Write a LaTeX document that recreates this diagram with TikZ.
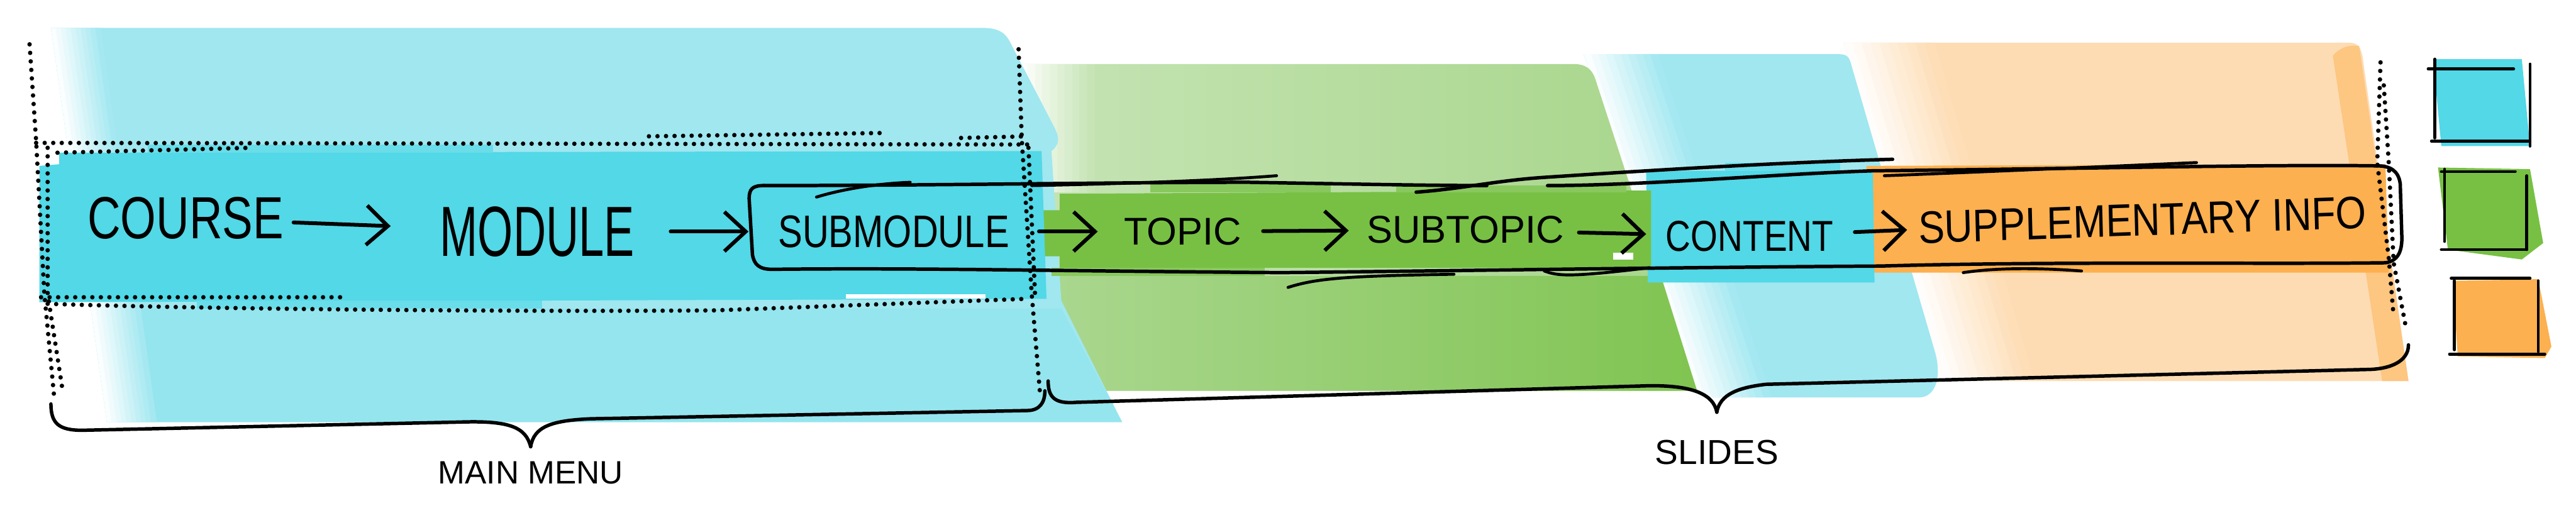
\documentclass[tikz,border=0pt]{standalone}
\usepackage{fontspec}
\setmainfont{Liberation Sans}
\newfontfamily\handfont{Liberation Sans}
\usetikzlibrary{arrows.meta,positioning}

\definecolor{menucyan}{HTML}{52D8E6}
\definecolor{menucyanlt}{HTML}{A0E7F0}
\definecolor{slidegreen}{HTML}{77C044}
\definecolor{slidegreenlt}{HTML}{B3DB9C}
\definecolor{infoorange}{HTML}{FDB04F}
\definecolor{infoorangelt}{HTML}{FDDCB3}

\begin{document}
\begin{tikzpicture}[x=1mm,y=-1mm,
  word/.style={inner sep=0pt,font=\handfont\fontsize{#1}{#1}\selectfont},
  ink/.style={line width=2.1mm,line cap=round,line join=round},
  pen/.style={line width=1.8mm,line cap=round},
  arr/.style={line width=2.3mm,line cap=round,line join=round,
              -{Straight Barb[length=13mm,width=24mm]}},
  dotrule/.style={line width=2.7mm,line cap=round,dash pattern=on 0pt off 5.2mm},
]
  \useasboundingbox (0,0) rectangle (1568,312.2);
  \fill[white] (0,0) rectangle (1568,312.2);

  % Marker washes (back to front)
  \fill[infoorangelt] (1122,26) -- (1430,26) .. controls (1436,26) and (1437,30) .. (1438,34)
    -- (1466,232) -- (1183,232) -- cycle;
  \fill[infoorangelt!50!infoorange] (1420,34) .. controls (1424,29) and (1430,27) .. (1436,28)
    -- (1466,232) -- (1450,232) -- cycle;
  \foreach \i in {0,...,9}{
    \pgfmathtruncatemacro{\mix}{\i*10+5}
    \fill[infoorangelt!\mix!white] ({1122+5.5*\i},26) -- ({1128+5.5*\i},26)
      -- ({1189+5.5*\i},232) -- ({1183+5.5*\i},232) -- cycle;
  }

  \fill[menucyanlt] (964,33) -- (1120,33) .. controls (1125,33) and (1126,36) .. (1127,40)
    -- (1178,215) .. controls (1182,230) and (1178,242) .. (1168,242) -- (1033,242) -- cycle;
  \foreach \i in {0,...,9}{
    \pgfmathtruncatemacro{\mix}{\i*10+5}
    \fill[menucyanlt!\mix!white] ({964+4.5*\i},33) -- ({969+4.5*\i},33)
      -- ({1038+4.5*\i},242) -- ({1033+4.5*\i},242) -- cycle;
  }

  \shade[left color=slidegreenlt!75!white,right color=slidegreenlt!80!slidegreen]
    (621,39) -- (958,39) .. controls (965,39) and (969,42) .. (971,48)
    -- (1033,238) -- (650,238) -- (621,175) -- cycle;
  \shade[left color=slidegreenlt!85!slidegreen,right color=slidegreen!85!slidegreenlt]
    (640,168) -- (1011,168) -- (1033,238) -- (650,238) -- cycle;
  \foreach \i in {0,...,9}{
    \pgfmathtruncatemacro{\mix}{\i*8+3}
    \fill[slidegreenlt!\mix!white] ({621+4.5*\i},39) rectangle ({626+4.5*\i},117);
  }

  \fill[menucyanlt] (31,17) -- (598,17) .. controls (608,17) and (612,20) .. (615,26)
    -- (642,78) .. controls (645,84) and (645,88) .. (640,92)
    -- (646,183) -- (683,257) -- (65,257) -- cycle;
  \fill[menucyanlt!85!menucyan] (60,188) -- (646,188) -- (683,257) -- (72,257) -- cycle;
  \foreach \i in {0,...,9}{
    \pgfmathtruncatemacro{\mix}{\i*10+5}
    \fill[menucyanlt!\mix!white] ({31+3*\i},17) -- ({34.5+3*\i},17)
      -- ({68.5+3*\i},257) -- ({65+3*\i},257) -- cycle;
  }

  % Dark bands
  \fill[infoorange] (1136,101) -- (1452,100) -- (1454,166) -- (1138,166) -- cycle;
  \fill[menucyan] (1002,104) -- (1140,104) -- (1141,172) -- (1003,172) -- cycle;
  \fill[menucyan!70!menucyanlt] (1050,99) rectangle (1120,104);
  \fill[slidegreen] (630,128) -- (645,128) -- (645,118) -- (1005,116) -- (1005,163)
    -- (645,163) -- (645,156) -- (630,156) -- cycle;
  \fill[slidegreen!70!slidegreenlt] (700,112) rectangle (810,117);
  \fill[slidegreen!70!slidegreenlt] (850,113) rectangle (990,117);
  \fill[slidegreen!70!slidegreenlt] (640,163) rectangle (770,168);
  \fill[menucyan] (24,101) -- (36,100) -- (36,93) -- (634,92) -- (637,182) -- (24,184) -- cycle;
  \fill[menucyan!70!menucyanlt] (90,88) rectangle (300,93);
  \fill[menucyan!70!menucyanlt] (120,183) rectangle (330,188);
  \fill[white] (515,179) rectangle (600,182);
  \fill[white] (982,154) rectangle (994,158);

  % Dotted outline of the main menu
  \draw[dotrule] (18,27) -- (22,86) -- (27,179) -- (33,242);
  \draw[dotrule] (29,90) -- (29,179) -- (38,237);
  \draw[dotrule] (620,30) -- (622,86) -- (628,179) -- (633,239);
  \draw[dotrule] (626,90) -- (630,179);
  \draw[dotrule] (22,87) -- (626,88);
  \draw[dotrule] (35,93) -- (153,90);
  \draw[dotrule] (395,83) -- (536,81);
  \draw[dotrule] (585,84) -- (626,83);
  \draw[dotrule] (25,181) -- (211,181);
  \draw[dotrule] (29,185) .. controls (120,188) and (300,190) .. (435,189) -- (624,182);

  % Dotted edge of the slides
  \draw[dotrule] (1449,38) -- (1447,99) -- (1454,157) -- (1457,193);
  \draw[dotrule] (1451,52) -- (1454,99) -- (1457,160) -- (1464,197);

  % Frame round submodule ... supplementary info
  \draw[ink] (465,113) .. controls (458,113) and (456,115) .. (456,121) -- (458,155)
    .. controls (459,161) and (462,164) .. (470,164)
    .. controls (560,163) and (640,165) .. (780,166)
    .. controls (880,165) and (1000,163) .. (1145,162)
    .. controls (1250,159) and (1380,161) .. (1452,160)
    .. controls (1459,159) and (1462,154) .. (1462,145) -- (1461,112)
    .. controls (1460,104) and (1455,101) .. (1447,101);
  \draw[ink] (465,113) .. controls (560,113) and (680,111) .. (760,111)
    .. controls (820,112) and (870,113) .. (905,113);
  \draw[ink] (862,117) .. controls (890,115) and (910,110) .. (940,108)
    .. controls (1000,104) and (1080,99) .. (1152,97);
  \draw[ink] (942,113) .. controls (1000,113) and (1080,106) .. (1140,104)
    .. controls (1250,103) and (1380,100) .. (1447,101);
  \draw[pen] (497,120) .. controls (510,116) and (530,112) .. (554,111);
  \draw[pen] (628,113) .. controls (680,112) and (740,110) .. (777,107);
  \draw[pen] (1147,107) .. controls (1200,105) and (1290,101) .. (1337,99);
  \draw[pen] (784,175) .. controls (800,170) and (815,168) .. (885,167);
  \draw[pen] (940,165) .. controls (948,168) and (955,169) .. (1004,163);
  \draw[pen] (1195,166) .. controls (1215,163) and (1240,163) .. (1267,165);

  % Levels
  \node[word=103,xscale=0.77] (course) at (113,133) {COURSE};
  \node[word=123,xscale=0.64] (module) at (327,141) {MODULE};
  \node[word=79,xscale=0.8] (submod) at (544,141) {SUBMODULE};
  \node[word=67] (topic) at (720,141) {TOPIC};
  \node[word=67] (subtopic) at (892,140) {SUBTOPIC};
  \node[word=75,xscale=0.8] (content) at (1065,144) {CONTENT};
  \node[word=79,xscale=0.86,rotate=1.7] (supp) at (1304,134) {SUPPLEMENTARY INFO};

  \draw[arr,shorten <=6mm,shorten >=30mm] (course) -- (module);
  \draw[arr,shorten <=22mm,shorten >=18mm] (module) -- (submod);
  \draw[arr,shorten <=18mm,shorten >=16mm] (submod) -- (topic);
  \draw[arr,shorten <=13mm,shorten >=11mm] (topic) -- (subtopic);
  \draw[arr,shorten <=9mm,shorten >=12mm] (subtopic) -- (content);
  \draw[arr,shorten <=13mm,shorten >=7mm] (content) -- (supp);

  % Braces
  \coordinate (menutip) at (323,272);
  \coordinate (slidetip) at (1045,251);
  \draw[ink] (31,246) .. controls (31,258) and (36,262) .. (50,262) -- (280,257)
    .. controls (310,256) and (320,260) .. (menutip);
  \draw[ink] (menutip) .. controls (325,260) and (335,256) .. (360,255) -- (625,250)
    .. controls (633,250) and (636,245) .. (636,238);
  \draw[ink] (638,232) .. controls (638,242) and (642,246) .. (655,245) -- (1000,235)
    .. controls (1030,234) and (1043,240) .. (slidetip);
  \draw[ink] (slidetip) .. controls (1047,240) and (1058,236) .. (1075,234) -- (1440,225)
    .. controls (1455,225) and (1466,220) .. (1466,210);
  \node[word=56,below=9mm of menutip] (menulabel) {MAIN MENU};
  \node[word=60,below=17mm of slidetip] (slidelabel) {SLIDES};

  % Colour key
  \fill[menucyan] (1481,36) -- (1535,36) -- (1540,89) -- (1486,89) -- cycle;
  \draw[pen] (1478,42) -- (1530,42);
  \draw[pen] (1482,36) -- (1482,84);
  \draw[pen] (1480,86) -- (1539,86);
  \draw[pen] (1540,39) -- (1540,89);
  \fill[slidegreen] (1484,102) -- (1540,103) -- (1548,148) -- (1535,158) -- (1490,152) -- cycle;
  \draw[pen] (1486,104.5) -- (1531,104.5);
  \draw[pen] (1488,103) -- (1488,147);
  \draw[pen] (1486,152) -- (1538,152);
  \draw[pen] (1538,107) -- (1538,152);
  \fill[infoorange] (1493,171) -- (1545,170) -- (1553,211) -- (1549,218) -- (1496,217) -- cycle;
  \draw[pen] (1492,169.5) -- (1540,169.5);
  \draw[pen] (1494,171) -- (1494,213);
  \draw[pen] (1491,215.6) -- (1549,215.6);
  \draw[pen] (1545,171) -- (1545,214);
\end{tikzpicture}
\end{document}
